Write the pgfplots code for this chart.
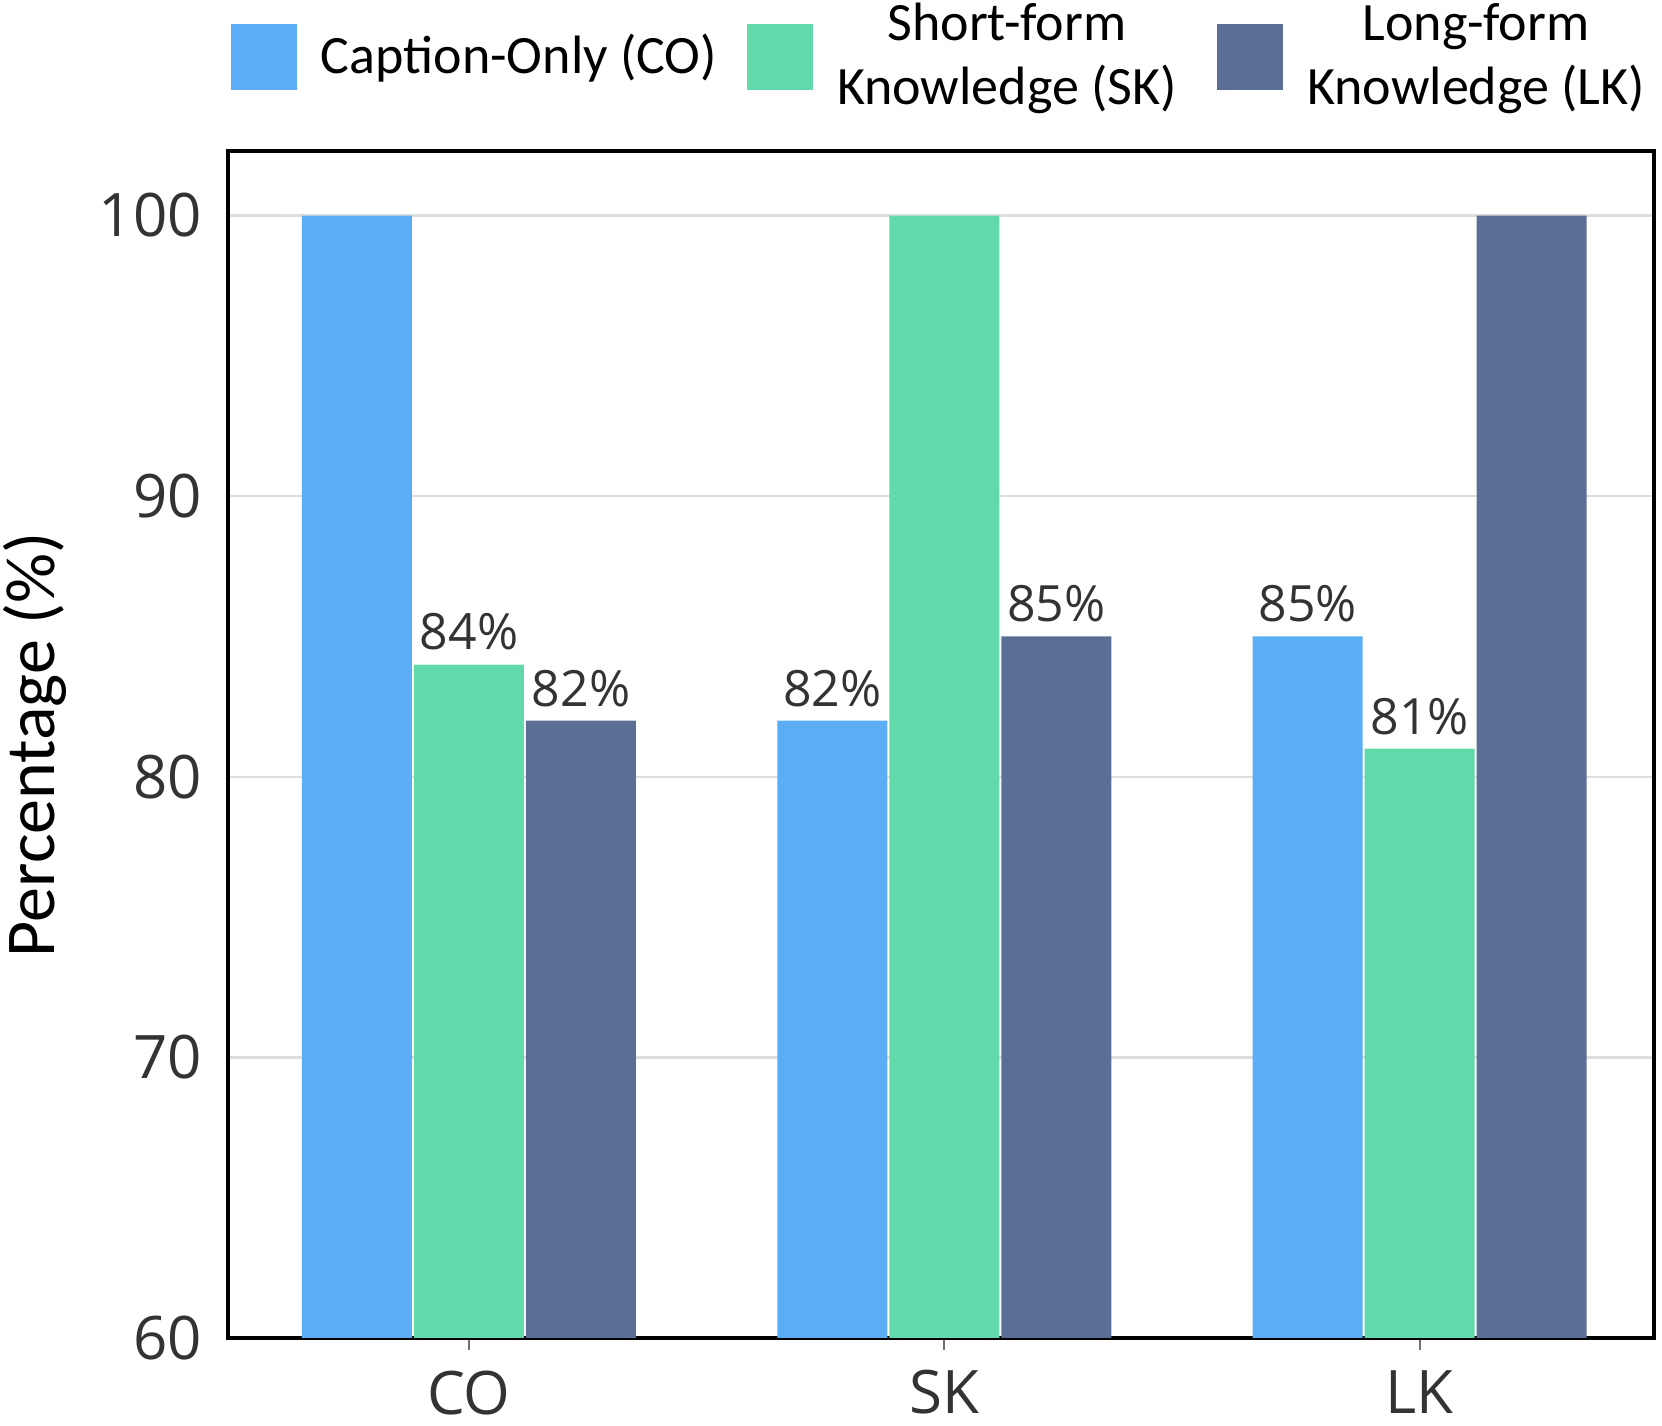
\documentclass[border=0pt]{standalone}
\usepackage{pgfplots}
\pgfplotsset{compat=1.18}
\usepackage{fontspec}
\setmainfont{Carlito}
\newfontfamily\tickfont{Open Sans}
\definecolor{cblue}{RGB}{91,174,245}
\definecolor{cgreen}{RGB}{98,217,171}
\definecolor{cnavy}{RGB}{91,110,149}
\definecolor{tickgray}{RGB}{51,51,51}
\definecolor{gridgray}{RGB}{222,222,222}
\begin{document}
\begin{tikzpicture}
\begin{axis}[
  scale only axis,
  width=356.5pt, height=296.75pt,
  xmin=-0.507, xmax=2.493,
  ymin=60, ymax=102.3,
  ybar=0.5pt, bar width=27.5pt,
  xtick={0,1,2}, xticklabels={CO,SK,LK},
  ytick={60,70,80,90,100},
  ymajorgrids, major grid style={gridgray, line width=0.6pt},
  axis line style={black, line width=1.1pt},
  tick align=outside, xtick pos=bottom, ytick pos=left,
  major tick length=3pt,
  xtick style={tickgray!70, line width=0.5pt},
  ytick style={draw=none},
  /pgf/number format/assume math mode=true,
  xticklabel style={font=\tickfont\fontsize{15}{18}\selectfont, text=tickgray, yshift=-1.6pt},
  yticklabel style={font=\tickfont\fontsize{15}{18}\selectfont, text=tickgray},
  ylabel={Percentage (\%)},
  every axis y label/.style={at={(axis description cs:-0.1353,0.5)}, rotate=90, anchor=center, font=\fontsize{17.5}{20}\selectfont},
  nodes near coords, point meta=explicit symbolic,
  every node near coord/.append style={font=\tickfont\fontsize{12.5}{15}\selectfont, text=tickgray},
  legend columns=3,
  legend image code/.code={\fill[#1] (0pt,-8.25pt) rectangle (16.5pt,8.25pt);},
  legend style={draw=none, fill=none, at={(0,1)}, anchor=west, yshift=23.5pt, xshift=0.5pt,
    inner sep=0pt, font=\fontsize{13.5}{16}\selectfont, cells={align=center},
    /tikz/every odd column/.append style={column sep=4pt},
    /tikz/every even column/.append style={column sep=5.5pt}},
]
\addplot[fill=cblue, draw=none] coordinates {(0,100) [\mbox{}] (1,82) [82\%] (2,85) [85\%]};
\addlegendentry{Caption-Only (CO)}
\addplot[fill=cgreen, draw=none] coordinates {(0,84) [84\%] (1,100) [\mbox{}] (2,81) [81\%]};
\addlegendentry{Short-form\\Knowledge (SK)}
\addplot[fill=cnavy, draw=none,
  legend image code/.code={\path (0pt,0pt); \fill[cnavy] (2.6pt,-8.25pt) rectangle (19.1pt,8.25pt);}]
  coordinates {(0,82) [82\%] (1,85) [85\%] (2,100) [\mbox{}]};
\addlegendentry{Long-form\\Knowledge (LK)}
\end{axis}
\pgfresetboundingbox
\useasboundingbox (-57pt,-22pt) rectangle (358.5pt,334.5pt);
\end{tikzpicture}
\end{document}
